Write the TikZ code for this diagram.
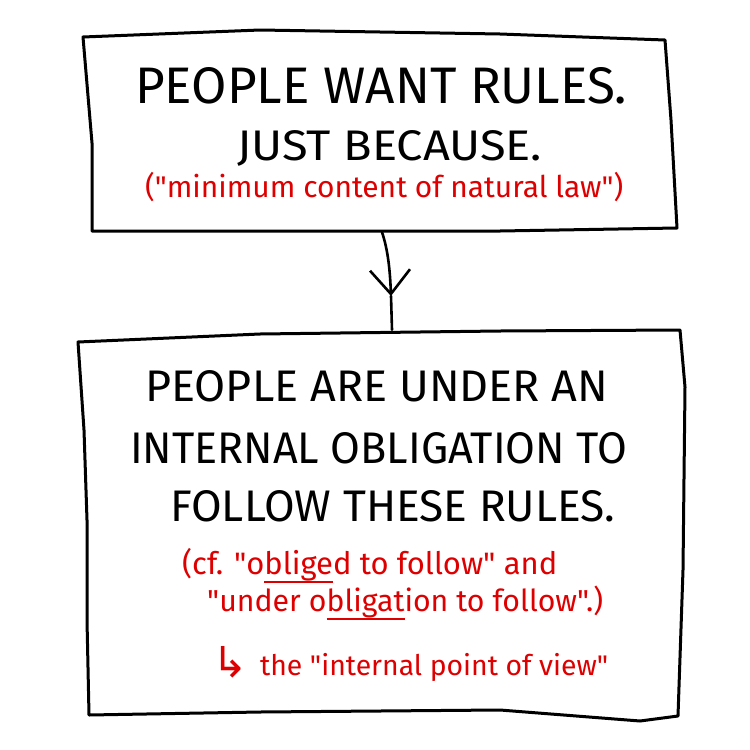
\documentclass[tikz,border=0pt]{standalone}
\usepackage{fontspec}
\setmainfont{Fira Sans}[Ligatures=TeXOff]
\newfontfamily\arrowfont{DejaVu Sans}
\usepackage{graphicx}
\usetikzlibrary{arrows.meta}
\definecolor{redink}{RGB}{222,0,0}
\newcommand\capline[3]{\resizebox{#1pt}{#2pt}{#3}}
\newcommand\redline[2]{\resizebox{#1pt}{!}{#2}}
\newlength\ulw
\newcommand\ulred[1]{\settowidth\ulw{#1}\rlap{\rule[-0.3em]{\ulw}{0.07em}}#1}
\tikzset{
  boxarea/.style={draw=none, rectangle, inner sep=0pt},
  boxline/.style={line width=3pt, line join=round, line cap=round, black},
  conn/.style={line width=2.6pt, line cap=round, black},
  blacktext/.style={inner sep=0pt, anchor=base west, text=black},
  redtext/.style={inner sep=0pt, anchor=base west, text=redink},
}
\begin{document}
\begin{tikzpicture}[x=1pt, y=-1pt]
\useasboundingbox (0,0) rectangle (750,750);
\fill[white] (0,0) rectangle (750,750);

% ---- top box ----
\node[boxarea, minimum width=594pt, minimum height=202pt] (top) at (380,131) {};
\draw[boxline] (83,37) -- (260,30) -- (500,34) -- (665,40) -- (671,120) -- (677,228)
  -- (500,231) -- (92,231) -- (92,143) -- cycle;

\node[blacktext] (t1) at (135,103) {\capline{492}{36}{PEOPLE WANT RULES.}};
\node[blacktext] (t2) at (237,160) {\capline{305}{30}{JUST BECAUSE.}};
\node[redtext] (t3) at (145,197) {\redline{478}{("minimum content of natural law")}};

% ---- bottom box ----
\node[boxarea, minimum width=607pt, minimum height=390pt] (bot) at (381.5,525) {};
\draw[boxline] (78,342) -- (260,334) -- (500,331) -- (680,330) -- (685,387) -- (683,570)
  -- (678,716) -- (640,721) -- (500,710) -- (260,712) -- (89,715) -- (87,620)
  -- (87,520) -- (84,430) -- cycle;

\node[blacktext] (b1) at (145,401) {\capline{463}{31}{PEOPLE ARE UNDER AN}};
\node[blacktext] (b2) at (130,463) {\capline{497}{31}{INTERNAL OBLIGATION TO}};
\node[blacktext] (b3) at (170,521) {\capline{445}{31}{FOLLOW THESE RULES.}};

\node[redtext] (b4) at (182,574) {\redline{375}{(cf. "o\ulred{blige}d to follow" and}};
\node[redtext] (b5) at (207,611) {\redline{396}{"under o\ulred{bligat}ion to follow".)}};
\node[redtext] (b6) at (212,675) {\redline{396}{\raisebox{-0.1em}{\scalebox{1.5}{\arrowfont ↳}}\, the "internal point of view"}};

% ---- connector ----
\coordinate (tip) at (391,296);
\draw[conn, -{Straight Barb[length=24pt, width=40pt]}]
  ([xshift=2pt]top.south) .. controls (388,250) and (390,270) .. (tip);
\draw[conn] (tip) -- ([xshift=10.5pt]bot.north);
\end{tikzpicture}
\end{document}
